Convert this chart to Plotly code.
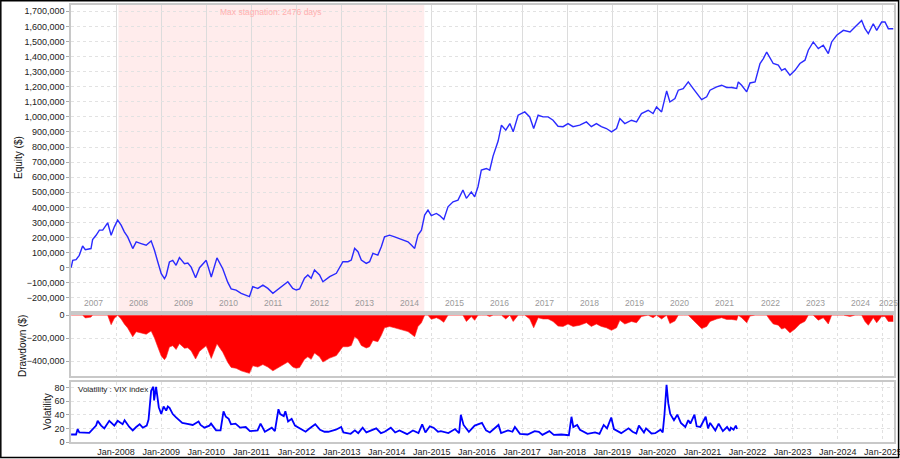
import numpy as np
import plotly.graph_objects as go

# ---------------- data ----------------
eq_dates = [
 "2007-01-02","2007-01-15","2007-02-11","2007-03-09","2007-04-05","2007-04-27","2007-06-12","2007-06-25",
 "2007-07-23","2007-08-19","2007-09-15","2007-10-25","2007-11-22","2007-12-18","2008-01-14","2008-02-11",
 "2008-03-08","2008-04-04","2008-05-15","2008-06-12","2008-07-22","2008-09-01","2008-10-11","2008-11-07",
 "2008-12-04","2009-01-01","2009-01-27","2009-02-10","2009-03-08","2009-04-04","2009-05-01","2009-05-28",
 "2009-07-08","2009-08-04","2009-08-31","2009-10-06","2009-11-07","2009-12-31","2010-02-10","2010-03-08",
 "2010-03-28","2010-05-14","2010-06-23","2010-07-21","2010-08-30","2010-10-10","2010-11-20","2010-12-16",
 "2011-01-12","2011-02-22","2011-04-04","2011-05-14","2011-06-24","2011-08-17","2011-10-23","2011-12-02",
 "2011-12-30","2012-01-26","2012-03-06","2012-04-02","2012-04-29","2012-05-26","2012-07-06","2012-08-02",
 "2012-09-26","2012-11-19","2012-12-16","2013-01-11","2013-02-21","2013-03-20","2013-04-16","2013-05-13",
 "2013-06-09","2013-07-19","2013-08-15","2013-09-11","2013-10-21","2013-11-18","2013-12-14","2014-01-24",
 "2014-03-06","2014-04-15","2014-05-12","2014-06-22","2014-07-19","2014-08-15","2014-09-11","2014-10-09",
 "2014-11-04","2014-12-01","2014-12-28","2015-02-07","2015-03-06","2015-04-08","2015-05-12","2015-06-22",
 "2015-08-01","2015-09-10","2015-10-08","2015-11-17","2015-12-14","2016-01-10","2016-02-06","2016-03-18",
 "2016-04-14","2016-05-11","2016-06-21","2016-07-18","2016-08-22","2016-09-24","2016-10-21","2016-11-30",
 "2017-01-23","2017-03-04","2017-04-05","2017-05-11","2017-06-20","2017-07-31","2017-09-09","2017-10-19",
 "2017-11-29","2018-01-08","2018-02-18","2018-04-13","2018-06-06","2018-07-16","2018-08-26","2018-10-05",
 "2018-11-15","2018-12-26","2019-02-05","2019-03-04","2019-04-13","2019-06-06","2019-07-17","2019-08-26",
 "2019-10-19","2019-11-28","2019-12-26","2020-02-05","2020-03-17","2020-04-12","2020-05-23","2020-06-19",
 "2020-07-29","2020-09-08","2020-10-18","2020-11-28","2020-12-25","2021-02-04","2021-03-03","2021-04-26",
 "2021-06-05","2021-07-16","2021-08-25","2021-10-05","2021-10-18","2021-11-14","2021-12-25","2022-01-21",
 "2022-03-03","2022-04-12","2022-05-09","2022-06-05","2022-07-02","2022-07-28","2022-09-07","2022-10-04",
 "2022-10-31","2022-12-10","2023-01-20","2023-03-01","2023-04-11","2023-05-08","2023-06-17","2023-07-28",
 "2023-09-06","2023-10-17","2023-11-13","2023-12-24","2024-02-16","2024-04-10","2024-05-20","2024-06-16",
 "2024-07-13","2024-08-09","2024-09-05","2024-10-15","2024-11-12","2024-12-22","2025-01-18","2025-02-14",
 "2025-03-26"]
eq_k = [
 0,49,53,82,144,120,127,187,
 215,249,249,298,215,271,315,282,
 238,204,127,171,160,149,178,116,
 38,-40,-73,-51,38,49,16,67,
 27,31,4,-67,0,49,-62,16,
 65,-7,-96,-140,-148,-170,-181,-192,
 -126,-137,-115,-137,-170,-137,-93,-137,
 -148,-141,-70,-48,-70,-15,-48,-93,
 -59,-37,7,40,40,51,128,106,
 51,29,40,95,84,139,205,216,
 205,194,183,172,150,128,216,249,
 349,382,346,360,346,320,404,437,
 448,515,460,503,470,537,647,658,
 647,740,840,945,912,956,901,1011,
 1033,1000,923,1011,1000,1000,978,938,
 935,956,935,945,967,935,956,935,
 923,901,923,989,956,978,967,1022,
 1044,1022,1066,1033,1172,1099,1122,1177,
 1188,1232,1188,1144,1115,1133,1177,1199,
 1210,1195,1195,1188,1232,1210,1166,1225,
 1232,1354,1387,1430,1387,1354,1343,1309,
 1320,1276,1309,1354,1376,1442,1497,1453,
 1475,1420,1497,1541,1574,1563,1596,1618,
 1640,1585,1552,1618,1574,1629,1629,1585,
 1585]

vix_dates = [
 "2007-01-02","2007-02-11","2007-02-24","2007-03-09","2007-05-29","2007-07-23","2007-08-05","2007-09-02",
 "2007-09-28","2007-11-07","2007-12-18","2008-01-14","2008-02-23","2008-03-10","2008-04-17","2008-05-15",
 "2008-06-12","2008-07-10","2008-08-04","2008-09-05","2008-09-20","2008-10-11","2008-10-29","2008-11-04",
 "2008-11-20","2008-12-12","2009-01-01","2009-01-20","2009-02-10","2009-02-23","2009-03-09","2009-04-04",
 "2009-05-01","2009-05-28","2009-06-20","2009-07-21","2009-09-13","2009-10-30","2009-11-15","2009-12-17",
 "2010-01-26","2010-02-08","2010-03-21","2010-04-26","2010-05-20","2010-06-08","2010-07-01","2010-07-20",
 "2010-08-25","2010-10-01","2010-11-16","2010-12-20","2011-01-20","2011-02-20","2011-03-16","2011-04-20",
 "2011-06-15","2011-07-10","2011-08-08","2011-08-22","2011-09-20","2011-10-03","2011-10-25","2011-11-23",
 "2011-12-20","2012-01-15","2012-03-15","2012-04-10","2012-06-01","2012-07-10","2012-08-15","2012-09-15",
 "2012-11-15","2012-12-28","2013-01-15","2013-03-15","2013-04-18","2013-05-15","2013-06-20","2013-07-20",
 "2013-08-27","2013-10-08","2013-11-15","2013-12-15","2014-02-03","2014-03-10","2014-04-14","2014-06-15",
 "2014-08-01","2014-09-15","2014-10-15","2014-11-10","2014-12-16","2015-01-15","2015-02-20","2015-03-15",
 "2015-05-15","2015-07-08","2015-08-10","2015-08-24","2015-09-15","2015-10-28","2015-12-14","2016-01-20",
 "2016-02-11","2016-03-15","2016-04-15","2016-06-24","2016-07-15","2016-09-09","2016-10-15","2016-11-04",
 "2016-12-15","2017-02-15","2017-04-13","2017-05-17","2017-06-15","2017-08-10","2017-09-15","2017-11-15",
 "2018-01-15","2018-02-05","2018-02-20","2018-03-23","2018-04-15","2018-06-15","2018-08-15","2018-09-20",
 "2018-10-24","2018-11-20","2018-12-24","2019-01-15","2019-03-15","2019-05-13","2019-06-15","2019-07-15",
 "2019-08-05","2019-09-15","2019-10-02","2019-11-15","2019-12-15","2020-01-27","2020-02-14","2020-02-28",
 "2020-03-16","2020-03-30","2020-04-15","2020-05-15","2020-06-11","2020-07-10","2020-08-15","2020-09-08",
 "2020-09-25","2020-10-28","2020-11-15","2020-12-15","2021-01-27","2021-02-15","2021-03-04","2021-04-15",
 "2021-05-12","2021-06-15","2021-07-19","2021-08-10","2021-08-19","2021-09-10","2021-09-28","2021-10-08"]
vix_values = [
 11,11,19,14,13.5,24,31,24,
 20,31,24,31,26,32,22,17,
 22,26,21,24,33,75,81,61,
 81,51,41,52,46,52,50,41,
 36,32,28,27,25,30,25,21,
 24,27,17,17,45,37,34,26,
 27,21,22,16,17,17,27,15,
 21,16,48,41,38,45,30,34,
 24,21,15,19,26,18,15,15,
 18,22,14,12,17,13,21,14,
 17,20,13,15,21,14,17,11.5,
 17,13,26,14,23,21,15,16,
 13,19,13,40,25,15,24,27,
 28,17,14,25,13,17,15,22,
 12,11,16,15,10.5,16,10.5,11,
 10,37,22,25,18,12,14,12,
 25,20,36,19,13,20,15,12.5,
 24,14,20,12.5,13,18,14,40,
 84,57,41,32,40,28,22,32,
 27,40,23,22,37,20,28,17,
 27,16,22,16,21,18,24,19]

years = list(range(2007, 2026))
x_start, x_end = "2007-01-01", "2025-04-01"
stag_start, stag_end = "2008-01-20", "2014-11-01"
stag_label = "Max stagnation: 2476 days"

# ---------------- derived ----------------
eq = np.array(eq_k, dtype=float) * 1000
dd = eq - np.maximum.accumulate(eq)

FONT = "Liberation Sans, Arial, sans-serif"
W, H = 900, 459
ML, MR, MT, MB = 71, 6, 5, 17
PW, PH = W - ML - MR, H - MT - MB

def py(p):   # pixel y -> paper
    return (H - MB - p) / PH

def px(p):   # pixel x -> paper
    return (p - ML) / PW

fig = go.Figure()
fig.add_trace(go.Scatter(x=eq_dates, y=eq, mode="lines", xaxis="x", yaxis="y",
                         line=dict(color="#2a2aff", width=1.4), hoverinfo="skip"))
fig.add_trace(go.Scatter(x=eq_dates, y=dd, mode="lines", xaxis="x2", yaxis="y2",
                         fill="tozeroy", fillcolor="#ff0000",
                         line=dict(color="#ff2020", width=0.6), hoverinfo="skip"))
fig.add_trace(go.Scatter(x=vix_dates, y=vix_values, mode="lines", xaxis="x3", yaxis="y3",
                         line=dict(color="#0000ff", width=1.8), hoverinfo="skip"))

jan_ticks = [f"{y}-01-01" for y in years[1:]]
jan_text = [f"Jan-{y}" for y in years[1:]]

frame = dict(showline=True, mirror=True, linecolor="#c8c8c8", linewidth=1.5)
common_x = dict(type="date", range=[x_start, x_end], tickvals=jan_ticks, ticks="",
                zeroline=False, automargin=False, **frame)
tickfont = dict(family=FONT, size=9, color="#222")
common_y = dict(showgrid=True, gridcolor="#e2e2e2", griddash="dot", zeroline=False,
                ticks="outside", ticklen=3, tickcolor="#aaa", tickfont=tickfont,
                automargin=False, **frame)

fig.update_layout(
    width=W, height=H, margin=dict(l=ML, r=MR, t=MT, b=MB, autoexpand=False),
    paper_bgcolor="white", plot_bgcolor="white", showlegend=False,
    font=dict(family=FONT, size=9, color="#222"),
    xaxis=dict(**common_x, anchor="y", showticklabels=False, showgrid=True,
               gridcolor="#dcdcdc", gridwidth=1.3),
    xaxis2=dict(**common_x, anchor="y2", matches="x", showticklabels=False, showgrid=True,
                gridcolor="#e0e0e0", griddash="dot"),
    xaxis3=dict(**common_x, anchor="y3", matches="x", ticktext=jan_text, showticklabels=True,
                ticklabeloverflow="allow",
                showgrid=True, gridcolor="#e0e0e0", griddash="dot", tickfont=tickfont),
    yaxis=dict(domain=[py(311), 1], range=[-287000, 1742000],
               tickvals=list(range(-200000, 1700001, 100000)), tickformat=",d", **common_y),
    yaxis2=dict(domain=[py(376), py(315)], range=[-530000, 1500],
                tickvals=[0, -200000, -400000], tickformat=",d", **common_y),
    yaxis3=dict(domain=[0, py(382)], range=[0, 88], tickvals=[0, 20, 40, 60, 80], **common_y),
)

# stagnation band
fig.add_shape(type="rect", xref="x", yref="y domain", x0=stag_start, x1=stag_end, y0=0, y1=1,
              fillcolor="#ffecec", line=dict(width=0), layer="below")

# outer black frame
fig.add_shape(type="rect", xref="paper", yref="paper",
              x0=px(0.8), x1=px(898.6), y0=py(457.6), y1=py(0.8),
              line=dict(color="black", width=1.5), fillcolor="rgba(0,0,0,0)")

C = dict(xanchor="center", yanchor="middle", showarrow=False)
ann = []
t0, t1 = np.datetime64(x_start), np.datetime64(x_end)
for y in years:
    a = max(np.datetime64(f"{y}-01-01"), t0)
    b = min(np.datetime64(f"{y + 1}-01-01"), t1)
    mid = a + (b - a) / 2
    ann.append(dict(x=str(mid.astype("datetime64[D]")), xref="x", y=py(303), yref="paper",
                    text=str(y), font=dict(family=FONT, size=8.5, color="#9a9a9a"), **C))
s0, s1 = np.datetime64(stag_start), np.datetime64(stag_end)
smid = s0 + (s1 - s0) / 2
ann.append(dict(x=str(smid), xref="x", y=py(12), yref="paper", text=stag_label,
                font=dict(family=FONT, size=8.5, color="#ffb0b0"), **C))
ann.append(dict(x=px(18), y=py(158), xref="paper", yref="paper", text="Equity ($)", textangle=-90,
                font=dict(family=FONT, size=10, color="#111"), **C))
ann.append(dict(x=px(22), y=py(346), xref="paper", yref="paper", text="Drawdown ($)", textangle=-90,
                font=dict(family=FONT, size=10, color="#111"), **C))
ann.append(dict(x=px(47), y=py(412), xref="paper", yref="paper", text="Volatility", textangle=-90,
                font=dict(family=FONT, size=10, color="#111"), **C))
ann.append(dict(x=px(76), y=py(389), xref="paper", yref="paper", text="Volatility : VIX index",
                xanchor="left", yanchor="middle", showarrow=False,
                font=dict(family=FONT, size=8, color="#222")))
fig.update_layout(annotations=ann)

fig.write_html("out.html", config={"displayModeBar": False},
               post_script="document.body.style.margin='0';document.body.style.overflow='hidden';")
